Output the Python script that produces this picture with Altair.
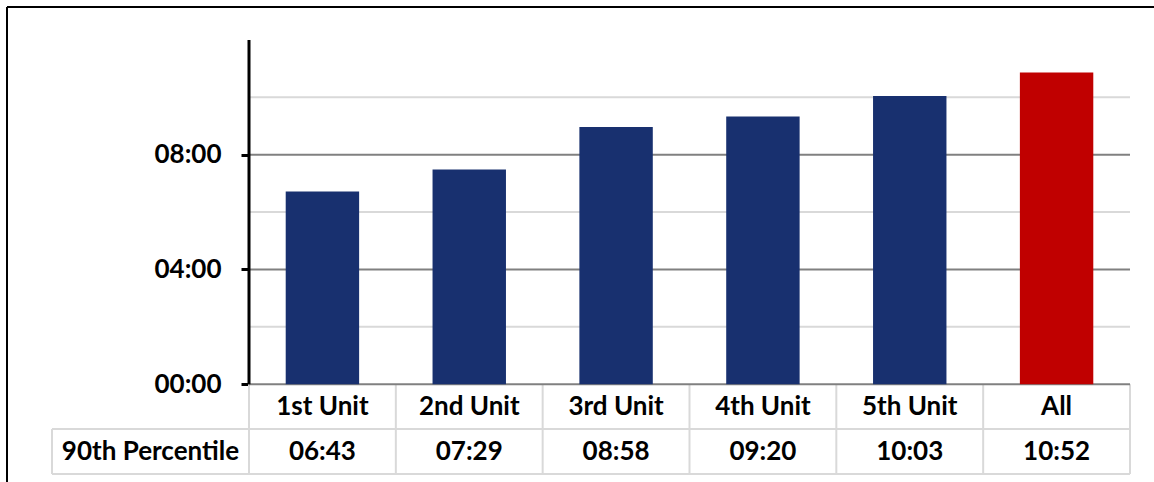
import altair as alt
import pandas as pd

# Response-time 90th percentiles per arriving unit (seconds)
units = ["1st Unit", "2nd Unit", "3rd Unit", "4th Unit", "5th Unit", "All"]
p90_labels = ["06:43", "07:29", "08:58", "09:20", "10:03", "10:52"]
p90_seconds = [403, 449, 538, 560, 603, 652]
row_header = "90th Percentile"

# y-axis ticks (seconds) and horizontal gridlines
y_ticks = [0, 240, 480]
major_grid = [0, 240, 480]
minor_grid = [120, 360, 600]

# layout of the value table drawn underneath the bars (in y-scale units)
Y_MAX = 720
TABLE_BOTTOM = -188
ROW_SPLIT = -94
ROW1_MID = -47
ROW2_MID = -141
HEADER_COL = -1.3417  # left edge of the row-header column, in category units

BLUE = "#18306F"
RED = "#C00000"
FONT = "Lato"
FSIZE = 26

n = len(units)
df = pd.DataFrame({
    "unit": units,
    "idx": list(range(n)),
    "secs": p90_seconds,
    "label": p90_labels,
})
df["lo"] = df["idx"] + 0.25
df["hi"] = df["idx"] + 0.75
df["mid"] = df["idx"] + 0.5
df["base"] = 0
df["row1"] = ROW1_MID
df["row2"] = ROW2_MID

xscale = alt.Scale(domain=[0, n], nice=False, zero=False)
yscale = alt.Scale(domain=[TABLE_BOTTOM, Y_MAX], nice=False, zero=False)

mmss = ("(floor(datum.value/60) < 10 ? '0' : '') + floor(datum.value/60) + ':' + "
        "(datum.value % 60 < 10 ? '0' : '') + (datum.value % 60)")

yaxis = alt.Axis(
    values=y_ticks, domain=False, grid=False, ticks=True,
    tickColor="black", tickSize=8, tickWidth=3,
    labelFont=FONT, labelFontWeight="bold", labelFontSize=FSIZE,
    labelColor="black", labelPadding=20, title=None, labelExpr=mmss,
)


def Y(field):
    return alt.Y(field, scale=yscale, axis=yaxis)


def X(field):
    return alt.X(field, scale=xscale, axis=None)


bars = alt.Chart(df).mark_bar().encode(
    x=X("lo:Q"), x2="hi:Q",
    y=Y("secs:Q"), y2="base:Q",
    color=alt.condition(alt.datum.unit == "All", alt.value(RED), alt.value(BLUE)),
)


def hrules(values, color):
    d = pd.DataFrame({"v": values, "x0": 0, "x1": n})
    return alt.Chart(d).mark_rule(color=color, strokeWidth=2).encode(
        x=X("x0:Q"), x2="x1:Q", y=Y("v:Q"),
    )


minor = hrules(minor_grid, "#D9D9D9")
major = hrules(major_grid, "#808080")

# y-axis line
yline = alt.Chart(pd.DataFrame({"x": [0], "y": [0], "y2": [Y_MAX]})).mark_rule(
    color="black", strokeWidth=3
).encode(x=X("x:Q"), y=Y("y:Q"), y2="y2:Q")

# table grid
vlines = pd.DataFrame({
    "x": list(range(n + 1)) + [HEADER_COL],
    "y": [0] * (n + 1) + [ROW_SPLIT],
    "y2": [TABLE_BOTTOM] * (n + 2),
})
hlines = pd.DataFrame({
    "y": [ROW_SPLIT, TABLE_BOTTOM],
    "x": [HEADER_COL, HEADER_COL],
    "x2": [n, n],
})
tv = alt.Chart(vlines).mark_rule(color="#D9D9D9", strokeWidth=2).encode(
    x=X("x:Q"), y=Y("y:Q"), y2="y2:Q",
)
th = alt.Chart(hlines).mark_rule(color="#D9D9D9", strokeWidth=2).encode(
    x=X("x:Q"), x2="x2:Q", y=Y("y:Q"),
)

text_style = dict(font=FONT, fontWeight="bold", fontSize=FSIZE, color="black",
                  align="center", baseline="middle")
names = alt.Chart(df).mark_text(**text_style).encode(
    x=X("mid:Q"), y=Y("row1:Q"), text="unit:N",
)
values = alt.Chart(df).mark_text(**text_style).encode(
    x=X("mid:Q"), y=Y("row2:Q"), text="label:N",
)
header = alt.Chart(
    pd.DataFrame({"t": [row_header], "x": [HEADER_COL / 2], "y": [ROW2_MID]})
).mark_text(**text_style).encode(
    x=X("x:Q"), y=Y("y:Q"), text="t:N",
)

# outer frame of the figure
frame_top = alt.Chart(pd.DataFrame({"a": [0]})).mark_rule(color="black", strokeWidth=2).encode(
    x=alt.value(-242), x2=alt.value(920), y=alt.value(-33),
)
frame_left = alt.Chart(pd.DataFrame({"a": [0]})).mark_rule(color="black", strokeWidth=2).encode(
    x=alt.value(-242), y=alt.value(-33), y2=alt.value(460),
)

chart = alt.layer(
    minor, tv, th, major, bars, yline, names, values, header, frame_top, frame_left
).properties(
    width=881, height=434,
    autosize=alt.AutoSizeParams(type="none"),
    padding={"left": 249, "top": 40, "right": 24, "bottom": 8},
).configure(
    background="white",
    view=alt.ViewConfig(stroke=None),
)

chart.save("out.html", embed_options={"renderer": "svg", "actions": False})
